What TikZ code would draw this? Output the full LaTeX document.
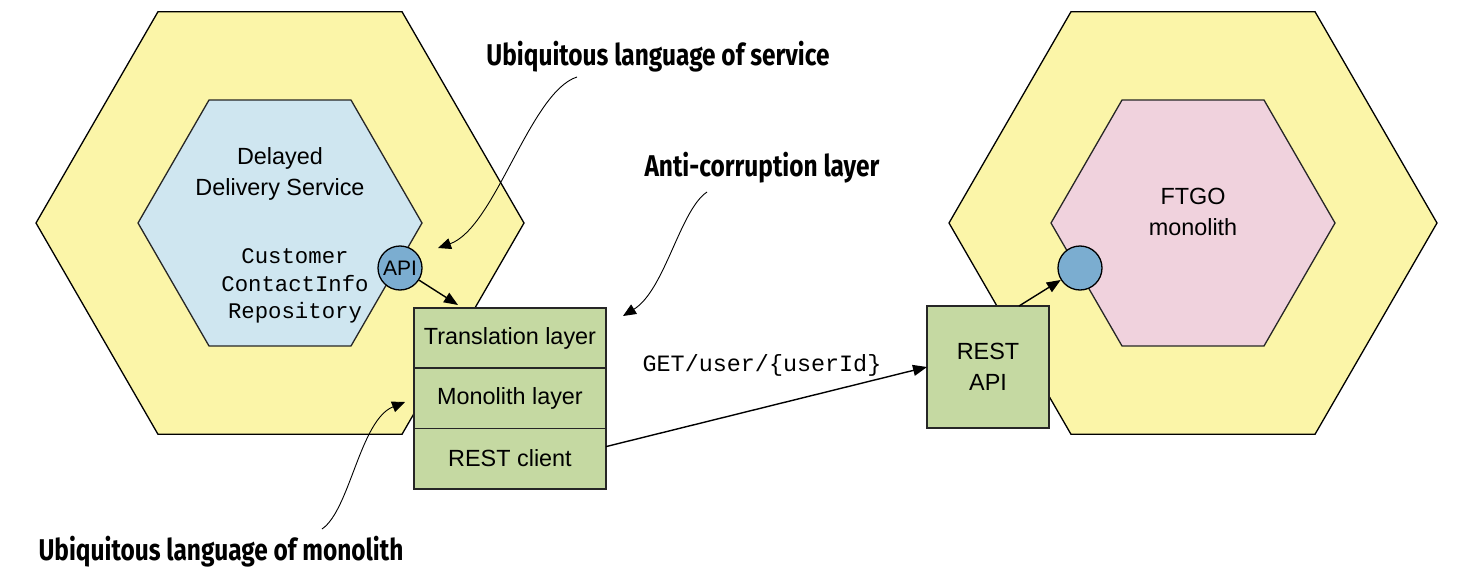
\documentclass[tikz,border=0pt]{standalone}
\usepackage{fontspec}
\setmainfont{Liberation Sans}
\setmonofont{Liberation Mono}
\newfontfamily\notefont[FakeStretch=0.815]{Fira Sans}
\usetikzlibrary{positioning}
\usetikzlibrary{arrows.meta}
\definecolor{hexyellow}{RGB}{251,245,168}
\definecolor{hexblue}{RGB}{207,230,240}
\definecolor{hexpink}{RGB}{240,210,221}
\definecolor{layergreen}{RGB}{197,217,162}
\definecolor{portblue}{RGB}{123,173,208}
\tikzset{
    outerhex/.style = {draw=black, line width=1.3pt, fill=hexyellow},
    servicehex/.style = {draw=black!85, line width=1.3pt, fill=hexblue},
    monohex/.style = {draw=black!85, line width=1.3pt, fill=hexpink},
    port/.style = {circle, draw=black, line width=1.3pt, fill=portblue, minimum size=44pt, inner sep=0pt},
    layer/.style = {rectangle, draw=black!85, line width=1.8pt, fill=layergreen, minimum width=192pt, minimum height=60.3pt, outer sep=0pt},
    sans/.style = {align=center, font=\fontsize{23.4}{31}\selectfont},
    mono/.style = {align=center, font=\ttfamily\fontsize{22.3}{27.5}\selectfont},
    note/.style = {font=\notefont\bfseries\fontsize{30}{36}\selectfont},
    flow/.style = {-{Triangle[length=14pt,width=11pt]}, line width=1.4pt},
    callout/.style = {-{Triangle[length=13pt,width=11pt]}, line width=0.9pt},
}

\begin{document}
\begin{tikzpicture}[x=1pt, y=-1pt]
\useasboundingbox (0,0) rectangle (1464,586);
\coordinate (lhex) at (280,223);
\coordinate (rhex) at (1193,223);
% hexagons
\draw[outerhex] (lhex) ++(0:244) \foreach \a in {120,180,...,360} {-- ++(\a:244)} -- cycle;
\draw[outerhex] (rhex) ++(0:244) \foreach \a in {120,180,...,360} {-- ++(\a:244)} -- cycle;
\draw[servicehex] (lhex) ++(0:142) \foreach \a in {120,180,...,360} {-- ++(\a:142)} -- cycle;
\draw[monohex] (rhex) ++(0:142) \foreach \a in {120,180,...,360} {-- ++(\a:142)} -- cycle;
%
\node[sans] (svcname) at (280,174) {Delayed\\Delivery Service};
\node[mono] (repo) at (295,286) {Customer\\ContactInfo\\Repository};
\node[sans] (ftgo) at (1193,212) {FTGO\\monolith};
\node[port, font=\fontsize{21}{24}\selectfont] (api) at (400,268) {API};
\node[port] (ftgoport) at (1080,268) {};
%
\node[layer, sans] (trans) at (510,338) {Translation layer};
\node[layer, sans, below=0pt of trans] (mlayer) {Monolith layer};
\node[layer, sans, below=0pt of mlayer] (client) {REST client};
\node[layer, sans, minimum width=122pt, minimum height=122pt] (restapi) at (988,367) {REST\\API};
%
\node[note] (svcnote) at (658,57) {Ubiquitous language of service};
\node[note] (aclnote) at (762,168) {Anti-corruption layer};
\node[note] (mononote) at (221,552) {Ubiquitous language of monolith};
\node[mono, font=\ttfamily\fontsize{23.4}{28}\selectfont] (getlbl) at (762,365) {GET/user/\{userId\}};
%
\coordinate (apiend) at (458,305);
\coordinate (svcfrom) at (577,77);
\coordinate (svcto) at (438,248);
\coordinate (aclfrom) at (707,192);
\coordinate (aclto) at (623,316);
\coordinate (monofrom) at (322,529);
\coordinate (monoto) at (405,402);
%
\draw[flow] (api) -- (apiend);
\draw[flow] ([xshift=31pt]restapi.north) -- (ftgoport);
\draw[flow] ([yshift=12pt]client.east) -- (restapi.west);
\draw[callout] (svcfrom) .. controls (530,92) and (495,228) .. (svcto);
\draw[callout] (aclfrom) .. controls (680,210) and (665,290) .. (aclto);
\draw[callout] (monofrom) .. controls (350,510) and (360,420) .. (monoto);
\end{tikzpicture}
\end{document}
